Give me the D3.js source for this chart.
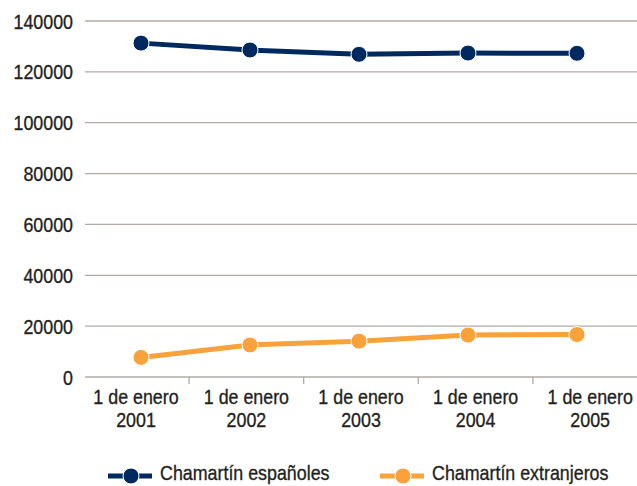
<!DOCTYPE html>
<html>
<head>
<meta charset="utf-8">
<script src="https://cdn.jsdelivr.net/npm/d3@7"></script>
<style>
  body { margin: 0; background: #fff; }
  text { font-family: "Liberation Sans", Arial, sans-serif; fill: #231f20; stroke: #231f20; stroke-width: 0.35px; }
</style>
</head>
<body>
<div class="chart"></div>
<script>
const years = ['2001', '2002', '2003', '2004', '2005'];
const espanoles = [131300, 128600, 126900, 127400, 127300];
const extranjeros = [7700, 12600, 14100, 16500, 16700];
const yTicks = [0, 20000, 40000, 60000, 80000, 100000, 120000, 140000];
const seriesNames = ['Chamartín españoles', 'Chamartín extranjeros'];
const colors = ['#002a5f', '#f9a13a'];

const width = 637, height = 486;
const fs = 21, squeeze = 0.85;   // condensed look

const svg = d3.select('.chart').append('svg')
    .attr('width', width)
    .attr('height', height);

const yScale = d3.scaleLinear().domain([0, 140000]).range([377, 21]);
// categories for axis labels/ticks
const xBand = d3.scaleBand().domain(years).range([74.5, 647.5]);
// marker positions
const xPoint = d3.scalePoint().domain(years).range([141, 577]);

function cond(x, y) { return 'translate(' + x + ',' + y + ') scale(' + squeeze + ',1)'; }

// gridlines
svg.append('g')
    .selectAll('line')
    .data(yTicks.filter(d => d > 0))
    .enter().append('line')
    .attr('x1', 85).attr('x2', 637)
    .attr('y1', d => yScale(d)).attr('y2', d => yScale(d))
    .attr('stroke', '#b3aaa6').attr('stroke-width', 1.3);

// y labels
svg.append('g')
    .selectAll('text')
    .data(yTicks)
    .enter().append('text')
    .attr('transform', d => cond(73, yScale(d)))
    .attr('dy', '0.36em')
    .attr('text-anchor', 'end')
    .attr('font-size', fs)
    .text(d => d);

// x axis line + ticks
svg.append('line')
    .attr('x1', 85).attr('x2', 637)
    .attr('y1', 377).attr('y2', 377)
    .attr('stroke', '#b3aaa6').attr('stroke-width', 1.3);

svg.append('g')
    .selectAll('line')
    .data(years.slice(1))
    .enter().append('line')
    .attr('x1', d => xBand(d)).attr('x2', d => xBand(d))
    .attr('y1', 377).attr('y2', 384)
    .attr('stroke', '#b3aaa6').attr('stroke-width', 1.3);

const labelX = (d, i) => i === 0 ? 136 : xBand(d) + xBand.bandwidth() / 2;
const xl = svg.append('g')
    .selectAll('text')
    .data(years)
    .enter().append('text')
    .attr('text-anchor', 'middle')
    .attr('font-size', fs)
    .attr('transform', (d, i) => cond(labelX(d, i), 0));
xl.append('tspan').attr('x', 0).attr('y', 404).text('1 de enero');
xl.append('tspan').attr('x', 0).attr('y', 427).text(d => d);

// series
const line = d3.line().x((d, i) => xPoint(years[i])).y(d => yScale(d));

[espanoles, extranjeros].forEach((vals, k) => {
    svg.append('path')
        .datum(vals)
        .attr('d', line)
        .attr('fill', 'none')
        .attr('stroke', colors[k])
        .attr('stroke-width', 5);
    svg.append('g')
        .selectAll('circle')
        .data(vals)
        .enter().append('circle')
        .attr('cx', (d, i) => xPoint(years[i]))
        .attr('cy', d => yScale(d))
        .attr('r', 8)
        .attr('fill', colors[k])
        .attr('stroke', '#fff')
        .attr('stroke-width', 1);
});

// legend
const legendX = [108, 380];
const legend = svg.selectAll('.legend')
    .data(seriesNames)
    .enter().append('g')
    .attr('transform', (d, i) => 'translate(' + legendX[i] + ',476)');

legend.append('line')
    .attr('x1', 0).attr('x2', 44)
    .attr('stroke', (d, i) => colors[i])
    .attr('stroke-width', 5);
legend.append('circle')
    .attr('cx', 23).attr('r', 8)
    .attr('fill', (d, i) => colors[i])
    .attr('stroke', '#fff').attr('stroke-width', 1);
legend.append('text')
    .attr('transform', cond(52, 0))
    .attr('y', 4)
    .attr('font-size', fs)
    .text(d => d);
</script>
</body>
</html>
